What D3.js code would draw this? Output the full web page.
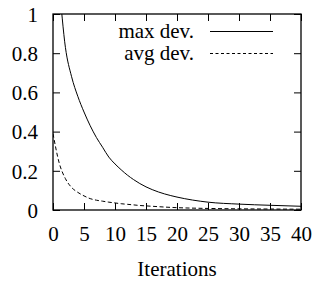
<!DOCTYPE html>
<html>
<head>
<meta charset="utf-8">
<script src="https://cdn.jsdelivr.net/npm/d3@7"></script>
<style>
  body { margin: 0; background: #fff; }
</style>
</head>
<body>
<div id="chart"></div>
<script>
// iterations and the two deviation series
const iterations = [0, 1, 2, 3, 4, 5, 6, 7, 8, 9, 10, 11, 12, 13, 14, 15, 16, 17, 18, 20, 25, 30, 35, 40];
const maxDev = [1.45, 1.14, 0.83, 0.68, 0.58, 0.50, 0.43, 0.37, 0.32, 0.27, 0.235, 0.205, 0.178, 0.155, 0.135, 0.118, 0.104, 0.092, 0.082, 0.066, 0.04, 0.03, 0.024, 0.019];
const avgDev = [0.39, 0.24, 0.16, 0.115, 0.09, 0.072, 0.058, 0.05, 0.045, 0.04, 0.036, 0.032, 0.029, 0.026, 0.023, 0.021, 0.019, 0.017, 0.015, 0.012, 0.008, 0.006, 0.005, 0.004];
const xTicks = [0, 5, 10, 15, 20, 25, 30, 35, 40];
const yTicks = [0, 0.2, 0.4, 0.6, 0.8, 1];
const yTickLabels = ["0", "0.2", "0.4", "0.6", "0.8", "1"];
const seriesNames = ["max dev.", "avg dev."];

const width = 316, height = 284
const mLeft = 53, mRight = 301, mTop = 14, mBottom = 210
const font = "Liberation Serif, Tinos, Times, Noto Serif, DejaVu Serif, serif"
const fontSize = "21px"

const x = d3.scaleLinear().domain([0, 40]).range([mLeft, mRight])
const y = d3.scaleLinear().domain([0, 1]).range([mBottom, mTop])

const svg = d3.select("#chart").append("svg")
    .attr("width", width)
    .attr("height", height)

svg.append("defs").append("clipPath").attr("id", "clip")
    .append("rect")
    .attr("x", mLeft).attr("y", mTop)
    .attr("width", mRight - mLeft).attr("height", mBottom - mTop)

const tick = 7
// inward ticks on all four sides
const ax = [
    d3.axisBottom(x).tickValues(xTicks).tickSize(-tick).tickFormat(d => d),
    d3.axisTop(x).tickValues(xTicks).tickSize(-tick).tickFormat(""),
    d3.axisLeft(y).tickValues(yTicks).tickSize(-tick).tickFormat((d, i) => yTickLabels[i]),
    d3.axisRight(y).tickValues(yTicks).tickSize(-tick).tickFormat("")
]
const pos = [`translate(0,${mBottom})`, `translate(0,${mTop})`, `translate(${mLeft},0)`, `translate(${mRight},0)`]
ax.forEach((a, i) => {
    const g = svg.append("g").attr("transform", pos[i]).call(a)
    g.select(".domain").remove()
    g.attr("font-family", font).attr("font-size", fontSize)
    g.selectAll("line").attr("stroke", "#000").attr("stroke-width", 1)
    g.selectAll("text").attr("fill", "#000")
    if (i === 0) g.selectAll("text").attr("y", 16).attr("dy", "0.71em")
    if (i === 2) g.selectAll("text").attr("x", -15).attr("dy", "0.35em")
})

svg.append("rect")
    .attr("x", mLeft).attr("y", mTop)
    .attr("width", mRight - mLeft).attr("height", mBottom - mTop)
    .attr("fill", "none")
    .attr("stroke", "#000")
    .attr("stroke-width", 1.3)

const line = d3.line()
    .x((d, i) => x(iterations[i]))
    .y(d => y(d))
    .curve(d3.curveMonotoneX)

const plot = svg.append("g").attr("clip-path", "url(#clip)")
plot.append("path").datum(maxDev)
    .attr("d", line)
    .attr("fill", "none")
    .attr("stroke", "#000")
    .attr("stroke-width", 1)
plot.append("path").datum(avgDev)
    .attr("d", line)
    .attr("fill", "none")
    .attr("stroke", "#000")
    .attr("stroke-width", 1)
    .attr("stroke-dasharray", "4,2.5")

// legend
const legend = svg.append("g")
    .attr("font-family", font)
    .attr("font-size", fontSize)
seriesNames.forEach((name, i) => {
    const ly = 31.5 + i * 22
    legend.append("text")
        .attr("x", 194).attr("y", ly)
        .attr("dy", "0.3em")
        .attr("text-anchor", "end")
        .text(name)
    legend.append("line")
        .attr("x1", 210).attr("x2", 273)
        .attr("y1", ly).attr("y2", ly)
        .attr("stroke", "#000")
        .attr("stroke-width", 1)
        .attr("stroke-dasharray", i === 1 ? "3,2.5" : null)
})

svg.append("text")
    .attr("x", (mLeft + mRight) / 2)
    .attr("y", 276)
    .attr("text-anchor", "middle")
    .attr("font-family", font)
    .attr("font-size", fontSize)
    .text("Iterations")
</script>
</body>
</html>
